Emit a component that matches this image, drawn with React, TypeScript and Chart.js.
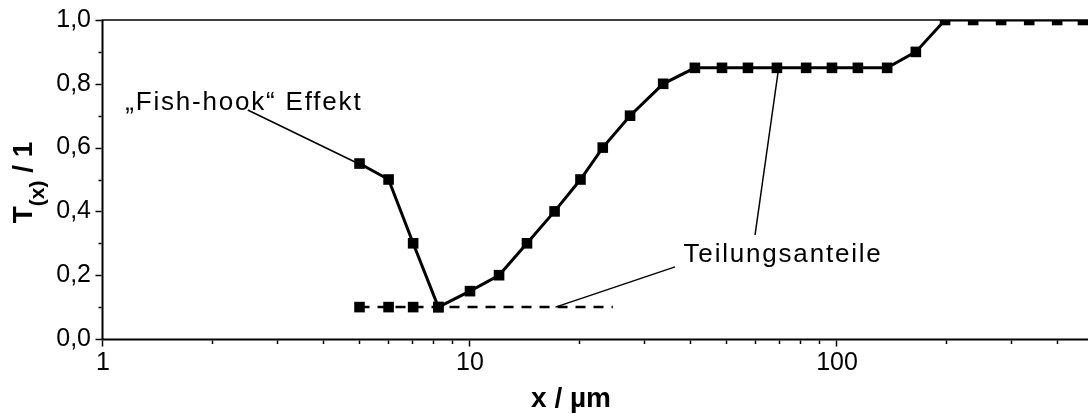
import React, { useEffect, useRef } from "react";
import { Chart, registerables } from "chart.js";

Chart.register(...registerables);

// ---- data ----
const mainX = [5, 6, 7, 8.2, 10, 12, 14.3, 17, 20, 23, 27.3, 33.6, 41, 48.6, 57.2, 68.6, 82.4, 96.9, 114, 137, 164, 197, 235, 280, 334, 398, 468];
const mainY = [0.55, 0.5, 0.3, 0.1, 0.15, 0.2, 0.3, 0.4, 0.5, 0.6, 0.7, 0.8, 0.85, 0.85, 0.85, 0.85, 0.85, 0.85, 0.85, 0.85, 0.9, 1.0, 1.0, 1.0, 1.0, 1.0, 1.0];
const dashX = [5, 6, 7, 8.2, 24.5];
const dashY = [0.1, 0.1, 0.1, 0.1, 0.1];
const dashMarkerCount = 4;

const yMajorTicks = [0, 0.2, 0.4, 0.6, 0.8, 1.0];
const yMinorTicks = [0.1, 0.3, 0.5, 0.7, 0.9];
const xMajorTicks = [1, 10, 100];
const xMinorTicks = [2, 3, 4, 5, 6, 7, 8, 9, 20, 30, 40, 50, 60, 70, 80, 90, 200, 300, 400];
const xMin = 1;
const xMax = 483;
const yMin = 0;
const yMax = 1;

const xTitle = "x / µm";
const yTitleMain = "T";
const yTitleSub = "(x)";
const yTitleRest = " / 1";

const annotationLabels = ["\u201EFish-hook\u201C Effekt", "Teilungsanteile"];
const annotationLabelX = [2.42, 71.3];
const annotationLabelY = [0.718, 0.241];
const leaderStartX = [2.48, 36.2, 59.8];
const leaderStartY = [0.718, 0.226, 0.326];
const leaderEndX = [4.86, 17.1, 69.1];
const leaderEndY = [0.555, 0.1, 0.837];

const FONT = '"Liberation Sans", Arial, sans-serif';

const decorPlugin = {
  id: "decor",
  afterDatasetsDraw(chart: any) {
    const { ctx, chartArea: a, scales } = chart;
    const xs = scales.x;
    const ys = scales.y;
    ctx.save();
    // leader lines
    ctx.strokeStyle = "#000";
    ctx.lineWidth = 1.5;
    ctx.setLineDash([]);
    for (let i = 0; i < leaderStartX.length; i++) {
      ctx.beginPath();
      ctx.moveTo(xs.getPixelForValue(leaderStartX[i]), ys.getPixelForValue(leaderStartY[i]));
      ctx.lineTo(xs.getPixelForValue(leaderEndX[i]), ys.getPixelForValue(leaderEndY[i]));
      ctx.stroke();
    }
    // annotation labels
    ctx.fillStyle = "#000";
    ctx.font = `26px ${FONT}`;
    ctx.textAlign = "center";
    ctx.textBaseline = "alphabetic";
    (ctx as any).letterSpacing = "1.8px";
    for (let i = 0; i < annotationLabels.length; i++) {
      ctx.fillText(annotationLabels[i], xs.getPixelForValue(annotationLabelX[i]), ys.getPixelForValue(annotationLabelY[i]));
    }
    (ctx as any).letterSpacing = "0px";

    // axes frame
    ctx.lineWidth = 2;
    ctx.beginPath();
    ctx.moveTo(a.left - 0.5, a.top);
    ctx.lineTo(a.left - 0.5, a.bottom + 1);
    ctx.stroke();
    ctx.beginPath();
    ctx.moveTo(a.left - 1.5, a.bottom + 0.5);
    ctx.lineTo(a.right, a.bottom + 0.5);
    ctx.stroke();
    ctx.lineWidth = 1.5;
    ctx.beginPath();
    ctx.moveTo(a.left - 1.5, a.top);
    ctx.lineTo(a.right, a.top);
    ctx.stroke();

    // ticks
    ctx.lineWidth = 1.5;
    const yTick = (v: number, len: number) => {
      const py = Math.round(ys.getPixelForValue(v)) + 0.5;
      ctx.beginPath();
      ctx.moveTo(a.left - 1.5, py);
      ctx.lineTo(a.left - 1.5 - len, py);
      ctx.stroke();
    };
    yMajorTicks.forEach((v) => yTick(v, 6));
    yMinorTicks.forEach((v) => yTick(v, 3));
    const xTick = (v: number, len: number) => {
      const px = Math.round(xs.getPixelForValue(v)) - 0.5;
      ctx.beginPath();
      ctx.moveTo(px, a.bottom + 1.5);
      ctx.lineTo(px, a.bottom + 1.5 + len);
      ctx.stroke();
    };
    xMajorTicks.forEach((v) => xTick(v, 6));
    xMinorTicks.forEach((v) => xTick(v, 3.5));
    ctx.restore();
  },
  afterDraw(chart: any) {
    const { ctx, chartArea: a } = chart;
    ctx.save();
    ctx.fillStyle = "#000";
    // x title
    ctx.font = `bold 28px ${FONT}`;
    ctx.textAlign = "center";
    ctx.textBaseline = "alphabetic";
    ctx.fillText(xTitle, 571, a.bottom + 68);

    // y title (rotated, with subscript)
    const mainFont = `bold 28px ${FONT}`;
    const subFont = `bold 21px ${FONT}`;
    ctx.font = mainFont;
    const w1 = ctx.measureText(yTitleMain).width;
    const w3 = ctx.measureText(yTitleRest).width;
    ctx.font = subFont;
    const w2 = ctx.measureText(yTitleSub).width;
    const total = w1 + w2 + w3;
    const cy = (a.top + a.bottom) / 2 + 3;
    ctx.translate(32, cy);
    ctx.rotate(-Math.PI / 2);
    ctx.textAlign = "left";
    let u = -total / 2;
    ctx.font = mainFont;
    ctx.fillText(yTitleMain, u, 0);
    u += w1;
    ctx.font = subFont;
    ctx.fillText(yTitleSub, u, 12);
    u += w2;
    ctx.font = mainFont;
    ctx.fillText(yTitleRest, u, 0);
    ctx.restore();
  },
};

export default function App() {
  const canvasRef = useRef<HTMLCanvasElement | null>(null);

  useEffect(() => {
    const canvas = canvasRef.current;
    if (!canvas) return;
    const pointSize = 7.5;
    const chart = new Chart(canvas, {
      type: "line",
      data: {
        datasets: [
          {
            label: "main",
            data: mainX.map((x, i) => ({ x, y: mainY[i] })),
            borderColor: "#000",
            backgroundColor: "#000",
            borderWidth: 3,
            pointStyle: "rect",
            pointRadius: pointSize,
            pointBorderWidth: 0,
            pointBackgroundColor: "#000",
            tension: 0,
            clip: 0,
            order: 1,
          },
          {
            label: "dash",
            data: dashX.map((x, i) => ({ x, y: dashY[i] })),
            borderColor: "#000",
            backgroundColor: "#000",
            borderWidth: 2.5,
            borderDash: [10, 8],
            pointStyle: "rect",
            pointRadius: (c: any) => (c.dataIndex < dashMarkerCount ? pointSize : 0),
            pointBorderWidth: 0,
            pointBackgroundColor: "#000",
            tension: 0,
            clip: 0,
            order: 2,
          },
        ],
      },
      options: {
        responsive: false,
        animation: false,
        events: [],
        layout: { autoPadding: false, padding: { top: 20, left: 0, right: 0, bottom: 0 } },
        plugins: { legend: { display: false }, tooltip: { enabled: false }, title: { display: false } },
        scales: {
          x: {
            type: "logarithmic",
            min: xMin,
            max: xMax,
            grid: { display: false, drawTicks: false },
            border: { display: false },
            afterBuildTicks: (s: any) => {
              s.ticks = xMajorTicks.map((v) => ({ value: v }));
            },
            afterFit: (s: any) => {
              s.height = 75;
              s.paddingLeft = 0;
              s.paddingRight = 0;
            },
            ticks: {
              autoSkip: false,
              maxRotation: 0,
              padding: 9,
              color: "#000",
              font: { family: FONT, size: 25 },
              callback: (v: any) => String(v),
            },
          },
          y: {
            type: "linear",
            min: yMin,
            max: yMax,
            grid: { display: false, drawTicks: false },
            border: { display: false },
            afterBuildTicks: (s: any) => {
              s.ticks = yMajorTicks.map((v) => ({ value: v }));
            },
            afterFit: (s: any) => {
              s.width = 103;
              s.paddingTop = 0;
              s.paddingBottom = 0;
            },
            ticks: {
              padding: 12,
              color: "#000",
              font: { family: FONT, size: 25 },
              callback: (v: any) => Number(v).toFixed(1).replace(".", ","),
            },
          },
        },
      },
      plugins: [decorPlugin],
    } as any);
    return () => chart.destroy();
  }, []);

  return (
    <div style={{ position: "absolute", left: 0, top: 0, width: 1088, height: 414, background: "#fff" }}>
      <canvas ref={canvasRef} width={1088} height={414} style={{ display: "block" }} />
    </div>
  );
}
